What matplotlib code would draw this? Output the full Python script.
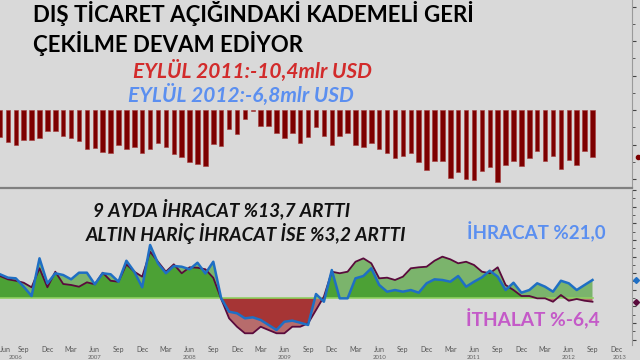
import matplotlib
matplotlib.use('Agg')
import matplotlib.pyplot as plt
from matplotlib.lines import Line2D
import numpy as np

# monthly trade balance, bn USD, Jun 2006 - Sep 2012
balance = [-3.9, -4.6, -5.1, -4.3, -4.4, -4.1, -3.0, -3.0, -3.8, -4.0,
           -4.5, -5.6, -5.5, -6.1, -6.2, -5.0, -5.6, -5.3, -6.3, -5.6,
           -4.8, -5.3, -6.4, -6.8, -7.5, -7.8, -8.1, -4.9, -5.2, -2.7,
           -3.5, -1.3, -0.15, -2.3, -2.3, -3.4, -4.1, -3.3, -4.8, -3.9,
           -2.4, -3.8, -5.0, -3.7, -3.3, -5.0, -5.4, -4.8, -5.6, -6.3,
           -6.9, -6.7, -6.2, -7.6, -8.7, -7.4, -7.4, -9.9, -9.0, -10.0,
           -10.1, -8.9, -8.2, -10.4, -7.9, -7.4, -8.1, -7.0, -6.0, -7.4,
           -6.6, -8.6, -7.3, -7.9, -5.9, -6.8]

# yearly change, %
exports = [28.6, 24.5, 23.7, 13.6, 2.4, 47.8, 17.7, 29.8, 27.7, 22.5,
           30.5, 30.5, 16.5, 29.8, 28.6, 19.6, 44.9, 31.7, 12.9, 63.9,
           41.8, 29.8, 38.6, 37.7, 34.6, 42.5, 29.5, 43.7, -0.4, -16.5,
           -18.4, -24.5, -23.3, -26.5, -32.5, -38.6, -28.6, -27.3, -29.8, -32.5,
           4.8, -4.5, 33.7, -0.4, -0.4, 23.7, 26.5, 35.8, 15.7, 7.6,
           9.6, 7.6, 9.6, 6.4, 17.7, 22.5, 21.7, 19.6, 26.5, 13.6,
           19.6, 24.9, 32.9, 25.7, 9.6, 18.4, 6.4, 9.6, 17.7, 13.6,
           7.6, 20.8, 17.7, 9.6, 15.7, 21.7]
imports = [26.5, 22.5, 20.8, 18.4, 12.9, 35.8, 12.9, 31.7, 16.9, 15.7,
           13.6, 18.9, 16.5, 30.5, 20.8, 19.6, 40.6, 31.7, 25.7, 55.8,
           43.7, 31.7, 40.6, 29.8, 37.0, 36.5, 34.6, 24.3, -1.2, -24.5,
           -34.6, -42.5, -42.5, -34.6, -38.6, -42.5, -42.5, -34.6, -34.6, -30.5,
           -14.5, 1.6, 31.7, 29.8, 31.7, 43.7, 47.8, 41.8, 23.7, 24.5,
           21.7, 25.7, 35.8, 37.0, 37.7, 44.9, 49.8, 46.6, 41.8, 43.7,
           39.8, 31.7, 29.8, 37.0, 15.7, 9.6, 2.4, 2.4, -0.4, -0.4,
           -4.5, 3.6, -3.3, -1.2, -3.3, -4.5]

month_names = ['Jun', 'Sep', 'Dec', 'Mar']
years = ['2006', '2007', '2008', '2009', '2010', '2011', '2012', '2013']
year_pos = [2, 12, 24, 36, 48, 60, 72, 78.5]

bg = '#d9d9d9'
W, H = 640, 360

fig = plt.figure(figsize=(6.4, 3.6), dpi=100, facecolor=bg)
plt.rcParams['font.family'] = ['Lato', 'DejaVu Sans']

x = np.arange(len(balance))
xmax = 80


def style_axes(ax):
    ax.set_facecolor(bg)
    for s in ['left', 'top', 'bottom']:
        ax.spines[s].set_visible(False)
    ax.spines['right'].set_color('#9a9a9a')
    ax.spines['right'].set_linewidth(0.8)
    ax.yaxis.tick_right()
    ax.tick_params(axis='y', which='both', direction='out', colors='#444444',
                   labelright=False)
    ax.tick_params(axis='y', which='major', length=3, width=0.8)
    ax.tick_params(axis='y', which='minor', length=2, width=0.6)
    ax.set_xlim(0, xmax)


# top panel: balance bars
ax1 = fig.add_axes([0, 1 - 187 / H, 632 / W, 187 / H])
style_axes(ax1)
ax1.bar(x, balance, width=0.58, color='#7d0000', edgecolor='#a53a3a', linewidth=0.4)
ax1.set_ylim(-77 / 6.9, 110 / 6.9)
ax1.set_yticks(np.arange(-10, 16, 5))
ax1.set_yticks(np.arange(-10, 16, 2.5), minor=True)
ax1.set_xticks([])
ax1.plot([xmax + 0.8], [balance[-1]], marker='o', ms=3, color='#7d0000', clip_on=False)

# bottom panel: export / import growth
ax2 = fig.add_axes([0, 1 - 345 / H, 632 / W, 155 / H])
style_axes(ax2)
ex = np.array(exports)
im = np.array(imports)
for s in (ex, im):
    ax2.fill_between(x, 0, s, where=s >= 0, interpolate=True, color='#1f9000',
                     alpha=0.5, linewidth=0)
    ax2.fill_between(x, 0, s, where=s <= 0, interpolate=True, color='#960000',
                     alpha=0.5, linewidth=0)
ax2.axhline(0, xmax=75 / xmax, color='#8fd060', lw=1.2)
ax2.plot(x, im, color='#5a0a3c', lw=1.3)
ax2.plot(x, ex, color='#1f6fc4', lw=1.8)
ax2.set_ylim(-47 / 0.83, 108 / 0.83)
ax2.set_yticks(np.arange(-50, 131, 20))
ax2.set_yticks(np.arange(-50, 131, 10), minor=True)
ax2.plot([xmax + 0.5], [exports[-1]], marker='D', ms=3, color='#1f6fc4', clip_on=False)
ax2.plot([xmax + 0.5], [imports[-1]], marker='D', ms=3, color='#5a0a3c', clip_on=False)

ticks = np.arange(0, 79, 3)
ax2.set_xticks(ticks)
ax2.set_xticklabels([month_names[(t // 3) % 4] for t in ticks])
ax2.tick_params(axis='x', length=0, pad=1, labelsize=5, colors='#555555')
ax2.get_xticklabels()[0].set_horizontalalignment('left')
for yr, p in zip(years, year_pos):
    ax2.text(p, -0.062, yr, transform=ax2.get_xaxis_transform(), ha='center',
             va='top', fontsize=4.3, color='#666666')

# panel separator
fig.add_artist(Line2D([0, 632 / W], [1 - 188 / H, 1 - 188 / H], color='#808080', lw=1.6))


def px(xp, yp):
    return xp / W, 1 - yp / H


fig.text(*px(33, 14), 'DIŞ TİCARET AÇIĞINDAKİ KADEMELİ GERİ', fontsize=16,
         fontweight='bold', color='black', va='center', ha='left')
fig.text(*px(33, 43), 'ÇEKİLME DEVAM EDİYOR', fontsize=16,
         fontweight='bold', color='black', va='center', ha='left')
fig.text(*px(133, 71), 'EYLÜL 2011:-10,4mlr USD', fontsize=15, fontweight='bold',
         style='italic', color='#d22b2b', va='center', ha='left')
fig.text(*px(128, 95), 'EYLÜL 2012:-6,8mlr USD', fontsize=15, fontweight='bold',
         style='italic', color='#5b8ff0', va='center', ha='left')
fig.text(*px(93, 209), '9 AYDA İHRACAT %13,7 ARTTI', fontsize=13.7, fontweight='bold',
         style='italic', color='#111111', va='center', ha='left')
fig.text(*px(86, 233), 'ALTIN HARİÇ İHRACAT İSE %3,2 ARTTI', fontsize=13.7,
         fontweight='bold', style='italic', color='#111111', va='center', ha='left')
fig.text(*px(467, 232), 'İHRACAT %21,0', fontsize=13.5, fontweight='bold',
         color='#5b8ff0', va='center', ha='left')
fig.text(*px(466, 319), 'İTHALAT %-6,4', fontsize=13.8, fontweight='bold',
         color='#c45ac8', va='center', ha='left')

fig.savefig('out.png', dpi=100, facecolor=bg)
